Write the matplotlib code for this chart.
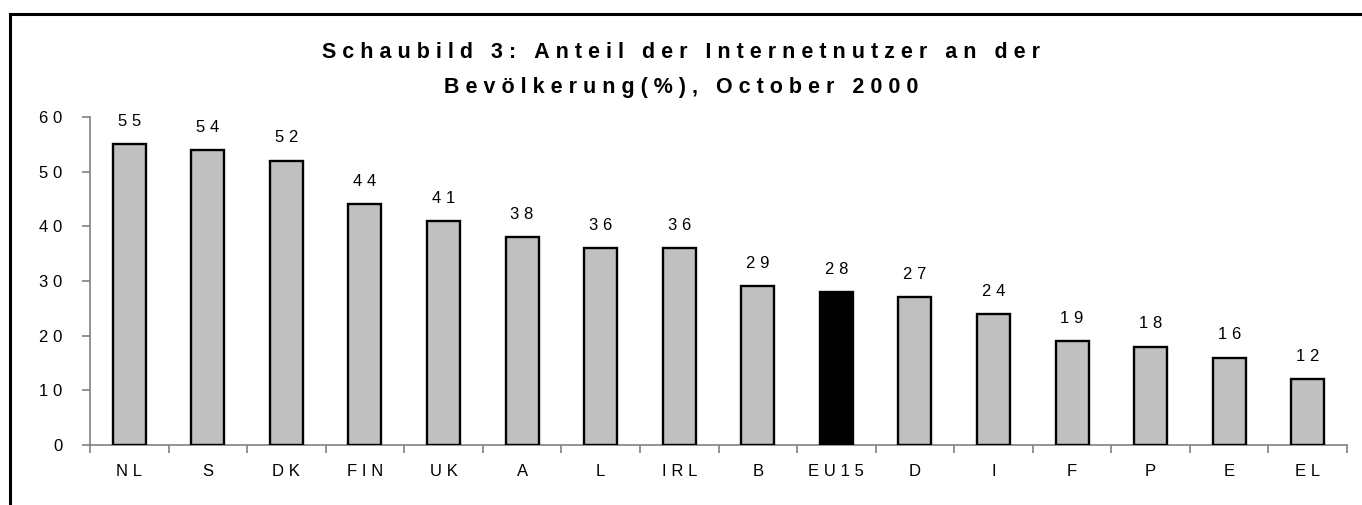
import matplotlib.pyplot as plt
from matplotlib.lines import Line2D

plt.rcParams['font.family'] = ['Liberation Sans', 'DejaVu Sans']

countries = ["NL", "S", "DK", "FIN", "UK", "A", "L", "IRL", "B", "EU15", "D", "I", "F", "P", "E", "EL"]
share = [55, 54, 52, 44, 41, 38, 36, 36, 29, 28, 27, 24, 19, 18, 16, 12]
highlight = "EU15"
title_lines = ["Schaubild 3: Anteil der Internetnutzer an der",
               "Bevölkerung(%), October 2000"]
yticks = [0, 10, 20, 30, 40, 50, 60]

GAP = "\u2009\u200a"


def spaced(s, gap=GAP):
    # old excel export has wide letter spacing
    return gap.join(s)


fig = plt.figure(figsize=(13.62, 5.05), dpi=100)
ax = fig.add_axes([0.0661, 0.1188, 0.9229, 0.6495])

colors = ["black" if c == highlight else "#c0c0c0" for c in countries]
x = list(range(len(countries)))
bars = ax.bar(x, share, width=0.42, color=colors, edgecolor="black", linewidth=1.7, zorder=3)

for xi, v in zip(x, share):
    ax.annotate(spaced(str(v)), (xi, v), xytext=(0, 11), textcoords="offset points",
                ha="center", va="bottom", fontsize=12)

ax.set_xlim(-0.5, len(countries) - 0.5)
ax.set_ylim(0, 60)
ax.set_yticks(yticks)
ax.set_yticklabels([spaced(str(t)) for t in yticks], fontsize=12)
ax.set_xticks([i - 0.5 for i in range(len(countries) + 1)])
ax.set_xticklabels([])
ax.set_xticks(x, minor=True)
ax.set_xticklabels([spaced(c) for c in countries], minor=True, fontsize=12)
ax.tick_params(axis="x", which="minor", length=0, pad=14)
ax.tick_params(axis="x", which="major", length=6, color="#808080", width=1.2)
ax.tick_params(axis="y", length=6, color="#808080", width=1.2, pad=14)

for side in ["top", "right"]:
    ax.spines[side].set_visible(False)
for side in ["left", "bottom"]:
    ax.spines[side].set_color("#808080")
    ax.spines[side].set_linewidth(1.2)

fig.text(0.5, 1 - 53 / 505, spaced(title_lines[0]), ha="center", va="center",
         fontsize=15.5, fontweight="bold")
fig.text(0.5, 1 - 88 / 505, spaced(title_lines[1]), ha="center", va="center",
         fontsize=15.5, fontweight="bold")

# outer frame, cropped at right and bottom
fig.add_artist(Line2D([10 / 1362, 10 / 1362], [0, 1 - 14 / 505], transform=fig.transFigure,
                      color="black", linewidth=2.2))
fig.add_artist(Line2D([10 / 1362, 1], [1 - 14 / 505, 1 - 14 / 505], transform=fig.transFigure,
                      color="black", linewidth=2.2))

fig.savefig("out.png", dpi=100)
